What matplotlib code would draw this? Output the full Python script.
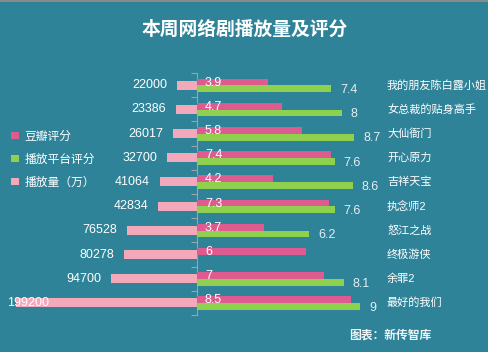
import numpy as np
import matplotlib
matplotlib.use("Agg")
import matplotlib.pyplot as plt

plt.rcParams["font.family"] = ["Liberation Sans", "Noto Sans CJK SC", "DejaVu Sans"]

# data
names = ["我的朋友陈白露小姐", "女总裁的贴身高手", "大仙衙门", "开心原力", "吉祥天宝",
         "执念师2", "怒江之战", "终极游侠", "余罪2", "最好的我们"]
plays = [22000, 23386, 26017, 32700, 41064, 42834, 76528, 80278, 94700, 199200]
douban = [3.9, 4.7, 5.8, 7.4, 4.2, 7.3, 3.7, 6, 7, 8.5]
platform = [7.4, 8, 8.7, 7.6, 8.6, 7.6, 6.2, np.nan, 8.1, 9]
legend_labels = ["豆瓣评分", "播放平台评分", "播放量（万）"]

BG = "#2f8399"
C_DB = "#dd5b8f"
C_PF = "#8fd14f"
C_PLAY = "#f4a9ba"
TXT = "#ffffff"

W, H = 489, 352
fig = plt.figure(figsize=(W / 100, H / 100), dpi=100)
fig.patch.set_facecolor(BG)
fig.add_artist(plt.Rectangle((0, 1 - 2 / H), 1, 2 / H, transform=fig.transFigure,
                             color="#8a8a8a", lw=0))

top, bot = 73, 315
cx, half = 197, 181
axL = fig.add_axes([(cx - half) / W, 1 - bot / H, half / W, (bot - top) / H])
axR = fig.add_axes([cx / W, 1 - bot / H, half / W, (bot - top) / H])
y = np.arange(len(names))

for ax in (axL, axR):
    ax.set_facecolor("none")
    ax.set_ylim(len(names) - 0.5, -0.5)
    ax.set_xticks([])
    for s in ax.spines.values():
        s.set_visible(False)
    ax.tick_params(left=False, labelleft=False)

# left: play counts
pmax = max(plays)
axL.set_xlim(pmax, 0)
bL = axL.barh(y, plays, height=0.37, color=C_PLAY)
axL.spines["right"].set_visible(True)
axL.spines["right"].set_color("#9aa3a8")
axL.set_yticks(np.arange(len(names) + 1) - 0.5)
axL.tick_params(axis="y", right=True, direction="in", length=4, color="#9aa3a8",
                labelright=False)
for i, v in enumerate(plays):
    if v > 0.9 * pmax:
        axL.annotate(str(v), (v, i), xytext=(-9, 0), textcoords="offset pixels",
                     ha="left", va="center", color=TXT, fontsize=9)
    else:
        axL.annotate(str(v), (v, i), xytext=(-10, 0), textcoords="offset pixels",
                     ha="right", va="center", color=TXT, fontsize=9)

# right: scores
axR.set_xlim(0, 10)
bh = 0.28
bD = axR.barh(y - 0.13, douban, height=bh, color=C_DB)
bP = axR.barh(y + 0.15, platform, height=bh, color=C_PF)
for i, v in enumerate(douban):
    axR.annotate(f"{v:g}", (0, i - 0.1), xytext=(8, 0), textcoords="offset pixels",
                 ha="left", va="center", color=TXT, fontsize=9)
for i, v in enumerate(platform):
    if np.isnan(v):
        continue
    axR.annotate(f"{v:g}", (v, i + 0.2), xytext=(9, 0), textcoords="offset pixels",
                 ha="left", va="center", color="#e4eef2", fontsize=9)
for i, n in enumerate(names):
    axR.annotate(n, (10, i), xytext=(9, 0), textcoords="offset pixels",
                 ha="left", va="center", color=TXT, fontsize=8, annotation_clip=False)

fig.text(245 / W, 1 - 30 / H, "本周网络剧播放量及评分", ha="center", va="center",
         color=TXT, fontsize=13.5, fontweight="bold")
fig.text(390 / W, 1 - 336 / H, "图表：新传智库", ha="center", va="center",
         color="#eef3f5", fontsize=8.5, fontweight="bold")

fig.legend([bD, bP, bL], legend_labels, loc="upper left",
           bbox_to_anchor=(2 / W, 1 - 121 / H), frameon=False, fontsize=8.5,
           labelcolor=TXT, handlelength=0.6, handleheight=0.6, handletextpad=0.5,
           labelspacing=0.95, borderpad=0.3)

fig.savefig("out.png", dpi=100, facecolor=BG)
